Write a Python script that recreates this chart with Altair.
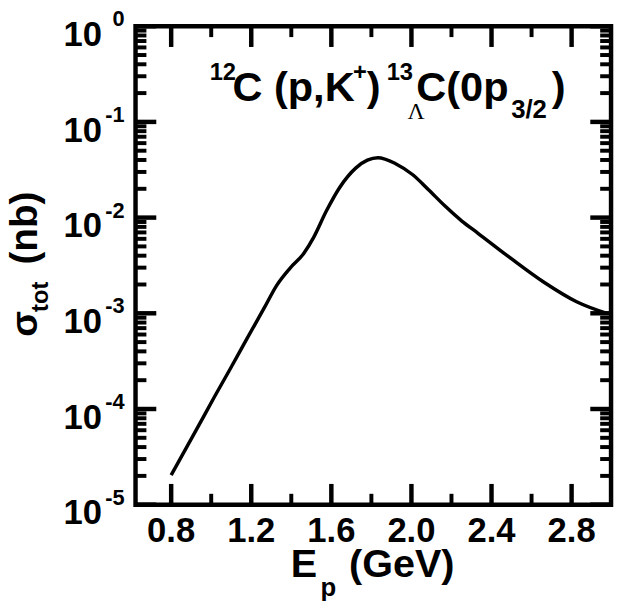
import altair as alt
import pandas as pd

# ---- data ----
energy = [0.80, 0.933, 1.017, 1.096, 1.18, 1.264, 1.328, 1.393, 1.462, 1.511,
          1.575, 1.64, 1.723, 1.78, 1.832, 1.921, 2.005, 2.084, 2.168, 2.252,
          2.331, 2.499, 2.662, 2.825, 2.98]
sigma = [2.04e-5, 6.46e-5, 1.35e-4, 2.65e-4, 5.50e-4, 1.13e-3, 1.97e-3, 2.95e-3,
         4.21e-3, 6.17e-3, 1.17e-2, 2.04e-2, 3.31e-2, 3.98e-2, 4.23e-2, 3.66e-2,
         2.82e-2, 1.97e-2, 1.32e-2, 9.2e-3, 6.9e-3, 3.72e-3, 2.11e-3, 1.32e-3,
         9.9e-4]

x_major = [0.8, 1.2, 1.6, 2.0, 2.4, 2.8]
x_labels = ["0.8", "1.2", "1.6", "2.0", "2.4", "2.8"]
x_minor = [1.0, 1.4, 1.8, 2.2, 2.6]
y_major = [1e0, 1e-1, 1e-2, 1e-3, 1e-4, 1e-5]
y_exp = ["0", "-1", "-2", "-3", "-4", "-5"]
y_minor = [k * 10.0 ** e for e in range(-5, 0) for k in range(2, 10)]

df = pd.DataFrame({"E": energy, "sigma": sigma})
ylab_df = pd.DataFrame({"v": y_major, "t": y_exp})
xlab_df = pd.DataFrame({"v": x_major, "t": x_labels})

FONT = "Liberation Sans"
W, H = 481, 484
xs = alt.Scale(type="linear", domain=[0.622, 2.997], nice=False, zero=False)
ys = alt.Scale(type="log", domain=[1e-5, 1], nice=False)

line = alt.Chart(df).mark_line(color="black", strokeWidth=3.5,
                               interpolate="monotone", clip=True).encode(
    x=alt.X("E:Q", scale=xs, axis=None),
    y=alt.Y("sigma:Q", scale=ys, axis=None),
)


def xrules(values, y0, y1, width):
    d = pd.DataFrame({"v": values})
    return alt.Chart(d).mark_rule(color="#000000", strokeWidth=width,
                                  strokeCap="butt").encode(
        x=alt.X("v:Q", scale=xs, axis=None), y=alt.value(y0), y2=alt.value(y1))


def yrules(values, x0, x1, width):
    d = pd.DataFrame({"v": values})
    return alt.Chart(d).mark_rule(color="#000000", strokeWidth=width,
                                  strokeCap="butt").encode(
        y=alt.Y("v:Q", scale=ys, axis=None), x=alt.value(x0), x2=alt.value(x1))


ticks = [
    xrules(x_major, H, H - 21, 4.5), xrules(x_minor, H, H - 11, 4),
    xrules(x_major, 0, 21, 4.5), xrules(x_minor, 0, 11, 4),
    yrules(y_major, 0, 21, 4.5), yrules(y_minor, 0, 11, 4),
    yrules(y_major, W, W - 21, 4.5), yrules(y_minor, W, W - 11, 4),
]

xlabels = alt.Chart(xlab_df).mark_text(
    font=FONT, fontSize=35, fontWeight="bold", align="center",
    baseline="alphabetic", color="black",
).encode(x=alt.X("v:Q", scale=xs, axis=None), y=alt.value(H + 38), text="t:N")

ytens = alt.Chart(ylab_df).mark_text(
    font=FONT, fontSize=35, fontWeight="bold", align="right",
    baseline="alphabetic", color="black", dy=20,
).encode(x=alt.value(-34), y=alt.Y("v:Q", scale=ys, axis=None),
         text=alt.value("10"))

exps = alt.Chart(ylab_df).mark_text(
    font=FONT, fontSize=22, fontWeight="bold", align="right",
    baseline="alphabetic", color="black", dy=0,
).encode(x=alt.value(-11), y=alt.Y("v:Q", scale=ys, axis=None), text="t:N")

one = pd.DataFrame({"a": [0]})


def txt(s, x, y, size, angle=0, font=FONT, weight="bold"):
    return alt.Chart(one).mark_text(
        text=s, font=font, fontSize=size, fontWeight=weight, align="left",
        baseline="alphabetic", angle=angle, color="black",
    ).encode(x=alt.value(x), y=alt.value(y))


labels = [
    # reaction annotation
    txt("12", 75, 54, 24),
    txt("C (p,K", 98, 76, 42),
    txt("+", 220, 54, 24),
    txt(")", 234, 76, 42),
    txt("13", 254, 54, 24),
    txt("\u039b", 275, 94, 24, font="Liberation Serif", weight="normal"),
    txt("C(0p", 284, 76, 42),
    txt("3/2", 380, 93, 26),
    txt(")", 421, 76, 42),
    # x title
    txt("E", 157, 557, 40),
    txt("p", 187, 576, 26),
    txt("(GeV)", 216, 557, 40),
    # y title
    txt("\u03c3", -100, 314, 38, angle=270),
    txt("tot", -89, 289, 24, angle=270),
    txt("(nb)", -100, 241, 39, angle=270),
]

chart = alt.layer(line, xlabels, ytens, exps, *labels, *ticks).properties(
    width=W, height=H,
    padding={"left": 129, "top": 15, "right": 4, "bottom": 94},
    autosize=alt.AutoSizeParams(type="none"),
    background="white",
).configure_view(stroke="black", strokeWidth=4.5)

chart.save("out.html", embed_options={"renderer": "svg", "actions": False})
